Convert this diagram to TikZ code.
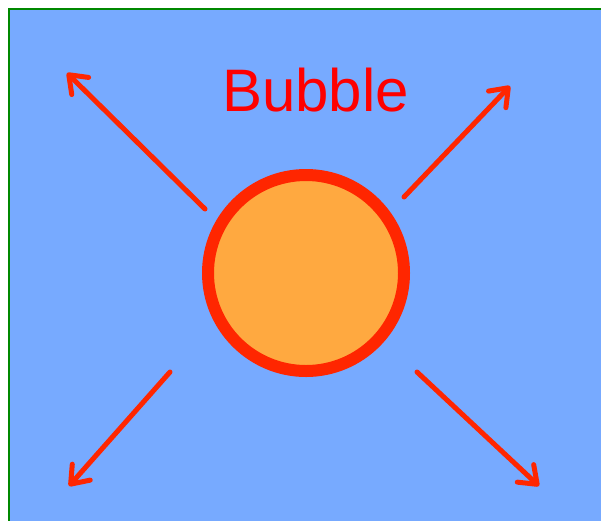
\documentclass[tikz,border=0pt]{standalone}
\usepackage{fontspec}
\setmainfont{Liberation Sans}
\usetikzlibrary{arrows.meta}
\definecolor{bgblue}{HTML}{77AAFF}
\definecolor{bubfill}{HTML}{FFA940}
\definecolor{bubline}{HTML}{FF2600}
\definecolor{bordergreen}{HTML}{008800}
\tikzset{
  burst/.style={draw=bubline, line width=5pt, line cap=round,
    -{Straight Barb[length=16pt, width=24pt, round]}},
  bubblenode/.style={circle, draw=bubline, line width=12pt, fill=bubfill,
    minimum size=196pt, inner sep=0pt}
}
\begin{document}
\begin{tikzpicture}[x=1pt, y=-1pt]
\useasboundingbox (0,0) rectangle (601,520);
\begin{scope}
\clip (0,0) rectangle (601,520);
\draw[bordergreen, line width=2pt, fill=bgblue] (9,8.5) rectangle (640,560);
\end{scope}
\node[bubblenode] (bubble) at (306,273) {};
\node[text=red, font=\fontsize{60}{60}\selectfont, anchor=base] (title) at (315.5,111.5) {Bubble};
\coordinate (tlS) at (205,209);
\coordinate (tlE) at (67,73);
\coordinate (trS) at (404,197);
\coordinate (trE) at (510,86);
\coordinate (blS) at (170,372);
\coordinate (blE) at (69,486);
\coordinate (brS) at (417,372);
\coordinate (brE) at (539,486);
\draw[burst] (tlS) -- (tlE);
\draw[burst] (trS) -- (trE);
\draw[burst] (blS) -- (blE);
\draw[burst] (brS) -- (brE);
\end{tikzpicture}
\end{document}
